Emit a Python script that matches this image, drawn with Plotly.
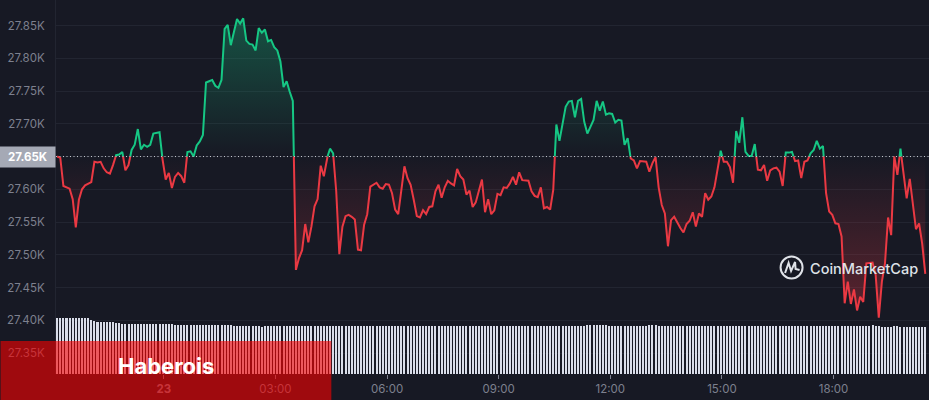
import pandas as pd
import plotly.graph_objects as go

# price every 5 minutes (USD)
price = [
    27650, 27648, 27605, 27603, 27601, 27585, 27542, 27584, 27600, 27606,
    27608, 27611, 27642, 27641, 27642, 27632, 27626, 27624, 27637, 27652,
    27653, 27657, 27629, 27637, 27660, 27668, 27692, 27661, 27668, 27665,
    27668, 27685, 27686, 27687, 27645, 27615, 27625, 27602, 27619, 27625,
    27620, 27610, 27657, 27658, 27650, 27667, 27673, 27683, 27763, 27765,
    27767, 27758, 27755, 27767, 27845, 27851, 27820, 27840, 27860, 27853,
    27861, 27827, 27822, 27821, 27812, 27846, 27839, 27844, 27826, 27828,
    27817, 27812, 27795, 27756, 27765, 27749, 27735, 27477, 27495, 27507,
    27547, 27519, 27543, 27574, 27585, 27636, 27620, 27647, 27662, 27655,
    27597, 27501, 27543, 27559, 27561, 27558, 27554, 27508, 27507, 27546,
    27562, 27604, 27607, 27610, 27603, 27601, 27608, 27607, 27594, 27569,
    27562, 27599, 27635, 27617, 27607, 27584, 27559, 27557, 27568, 27562,
    27573, 27574, 27597, 27607, 27587, 27603, 27613, 27609, 27606, 27631,
    27620, 27615, 27592, 27598, 27573, 27580, 27599, 27615, 27565, 27585,
    27562, 27568, 27593, 27591, 27603, 27602, 27609, 27619, 27607, 27626,
    27614, 27613, 27613, 27597, 27590, 27588, 27603, 27571, 27573, 27569,
    27599, 27699, 27674, 27701, 27726, 27734, 27735, 27710, 27735, 27738,
    27703, 27685, 27696, 27706, 27735, 27720, 27734, 27714, 27716, 27715,
    27702, 27706, 27705, 27668, 27678, 27647, 27644, 27632, 27643, 27643,
    27642, 27627, 27640, 27649, 27603, 27576, 27563, 27513, 27553, 27558,
    27549, 27541, 27534, 27547, 27552, 27565, 27543, 27563, 27558, 27594,
    27584, 27589, 27603, 27627, 27659, 27642, 27642, 27634, 27610, 27689,
    27671, 27710, 27657, 27651, 27651, 27669, 27630, 27629, 27637, 27613,
    27629, 27632, 27633, 27627, 27605, 27656, 27656, 27657, 27643, 27644,
    27617, 27642, 27644, 27655, 27660, 27674, 27662, 27666, 27594, 27566,
    27561, 27548, 27547, 27528, 27426, 27459, 27425, 27447, 27415, 27436,
    27428, 27487, 27487, 27488, 27469, 27404, 27459, 27487, 27557, 27530,
    27650, 27622, 27662, 27622, 27586, 27616, 27578, 27539, 27548, 27517,
    27471,
]

# volume bars, billions
volume = [
    15.0, 15.0, 15.0, 15.0, 15.0, 15.0, 15.0, 15.0, 15.0, 15.0,
    15.0, 14.5, 14.1, 14.0, 14.0, 13.9, 13.9, 13.9, 13.8, 13.7,
    13.7, 13.5, 13.5, 13.5, 13.5, 13.4, 13.4, 13.4, 13.4, 13.3,
    13.3, 13.3, 13.3, 13.3, 13.3, 13.3, 13.3, 13.3, 13.2, 13.2,
    13.2, 13.0, 13.0, 13.0, 13.0, 13.0, 13.0, 13.0, 13.0, 13.0,
    13.0, 13.0, 13.0, 13.0, 13.0, 13.0, 13.0, 12.9, 12.9, 12.9,
    12.9, 12.9, 12.9, 12.9, 12.8, 12.8, 12.5, 12.8, 12.9, 12.9,
    12.9, 12.9, 12.9, 12.9, 12.9, 12.9, 12.9, 12.9, 12.9, 12.9,
    12.9, 12.9, 12.9, 12.9, 12.9, 12.9, 12.9, 12.9, 12.9, 12.9,
    12.9, 12.9, 12.9, 12.8, 12.8, 12.8, 12.8, 12.8, 12.8, 12.8,
    12.8, 12.8, 12.8, 12.8, 12.8, 12.8, 12.8, 12.8, 12.8, 12.8,
    12.8, 12.8, 12.8, 12.8, 12.8, 12.8, 12.8, 12.8, 12.9, 12.8,
    12.8, 12.8, 12.8, 12.8, 12.8, 12.8, 12.8, 12.8, 12.8, 12.8,
    12.9, 12.9, 12.9, 12.9, 12.9, 12.9, 12.9, 12.9, 12.9, 12.9,
    12.9, 12.9, 12.9, 12.9, 12.8, 12.8, 12.8, 12.8, 12.8, 12.8,
    12.8, 12.8, 12.8, 12.8, 12.8, 12.8, 12.8, 12.8, 12.8, 12.8,
    12.8, 12.8, 12.8, 12.8, 12.8, 12.8, 12.8, 12.8, 12.8, 12.8,
    12.9, 13.0, 13.0, 13.0, 13.0, 13.0, 13.0, 13.0, 12.9, 12.9,
    12.9, 12.9, 12.9, 12.9, 12.9, 12.9, 12.9, 12.9, 12.9, 12.9,
    12.9, 13.0, 13.0, 13.0, 12.9, 12.9, 12.9, 12.8, 12.8, 12.8,
    12.8, 12.8, 12.8, 12.8, 12.8, 12.9, 12.9, 12.9, 12.9, 12.9,
    12.9, 12.9, 12.9, 12.9, 12.9, 12.9, 12.9, 12.9, 12.9, 12.9,
    12.9, 12.9, 12.9, 12.9, 12.9, 12.9, 12.9, 12.9, 12.9, 12.9,
    12.9, 12.9, 12.9, 12.9, 12.9, 12.9, 12.9, 12.9, 12.9, 12.9,
    12.9, 12.9, 12.9, 12.9, 12.9, 12.9, 12.9, 12.9, 12.9, 12.9,
    12.9, 12.8, 12.8, 12.8, 12.8, 12.8, 12.8, 12.8, 12.8, 12.8,
    12.8, 12.8, 12.8, 13.0, 12.9, 12.9, 12.7, 12.7, 12.7, 12.7,
    12.8, 12.8, 12.7, 12.7, 12.7, 12.6, 12.7, 12.7, 12.6, 12.6,
    12.6,
]

base_price = 27650
y_tickvals = [27350, 27400, 27450, 27500, 27550, 27600, 27650, 27700, 27750, 27800, 27850]
y_ticktext = ['27.35K', '27.40K', '27.45K', '27.50K', '27.55K', '27.60K', '', '27.70K', '27.75K', '27.80K', '27.85K']
x_tickvals = ['2023-04-23 00:00', '2023-04-23 03:00', '2023-04-23 06:00', '2023-04-23 09:00',
              '2023-04-23 12:00', '2023-04-23 15:00', '2023-04-23 18:00']
x_ticktext = ['<b>23</b>', '03:00', '06:00', '09:00', '12:00', '15:00', '18:00']

GREEN = '#16c784'
RED = '#ea3943'
BG = '#171924'
GREY = '#7d808e'
W, H = 929, 400
PLOT_L, PLOT_B = 55.5, 26


# pixel position in the window -> paper coordinates, for the overlay bits
def px(x):
    return (x - PLOT_L) / (W - PLOT_L)


def py(y):
    return 1 - y / (H - PLOT_B)


times = pd.date_range('2023-04-22 21:08', periods=len(price), freq='5min')

# add the points where the line meets the base price so colours switch exactly there
xs, ys = [], []
for i in range(len(price)):
    if i > 0 and (price[i - 1] - base_price) * (price[i] - base_price) < 0:
        frac = (base_price - price[i - 1]) / (price[i] - price[i - 1])
        xs.append(times[i - 1] + (times[i] - times[i - 1]) * frac)
        ys.append(base_price)
    xs.append(times[i])
    ys.append(price[i])

above = [v if v >= base_price else None for v in ys]
below = [v if v <= base_price else None for v in ys]
above_fill = [max(v, base_price) for v in ys]
below_fill = [min(v, base_price) for v in ys]
base_line = [base_price] * len(xs)

fig = go.Figure()

# green area
fig.add_trace(go.Scatter(x=xs, y=base_line, mode='lines', line={'width': 0}, hoverinfo='skip'))
fig.add_trace(go.Scatter(
    x=xs, y=above_fill, mode='lines', line={'width': 0}, fill='tonexty', hoverinfo='skip',
    fillgradient={'type': 'vertical', 'start': 27860, 'stop': base_price,
                  'colorscale': [[0, 'rgba(22,199,132,0.33)'], [1, 'rgba(22,199,132,0)']]},
))
# red area
fig.add_trace(go.Scatter(x=xs, y=base_line, mode='lines', line={'width': 0}, hoverinfo='skip'))
fig.add_trace(go.Scatter(
    x=xs, y=below_fill, mode='lines', line={'width': 0}, fill='tonexty', hoverinfo='skip',
    fillgradient={'type': 'vertical', 'start': 27404, 'stop': base_price,
                  'colorscale': [[0, 'rgba(234,57,67,0.33)'], [1, 'rgba(234,57,67,0)']]},
))

fig.add_trace(go.Scatter(x=xs, y=above, mode='lines', line={'color': GREEN, 'width': 2}, connectgaps=False))
fig.add_trace(go.Scatter(x=xs, y=below, mode='lines', line={'color': RED, 'width': 2}, connectgaps=False))

fig.add_trace(go.Bar(x=times, y=volume, yaxis='y2', width=195000,
                     marker={'color': '#d9dde9', 'line': {'width': 0}}))

shapes = [
    # dotted price line
    {'type': 'line', 'xref': 'paper', 'yref': 'y', 'x0': 0, 'x1': 1, 'y0': base_price, 'y1': base_price,
     'line': {'color': '#c9ccd3', 'width': 1, 'dash': '1px,2.5px'}, 'layer': 'above'},
    # red banner
    {'type': 'rect', 'xref': 'paper', 'yref': 'paper', 'x0': px(0), 'x1': px(331), 'y0': py(341), 'y1': py(400),
     'fillcolor': 'rgba(250,0,0,0.6)', 'line': {'width': 0}, 'layer': 'above'},
    # logo
    {'type': 'circle', 'xref': 'paper', 'yref': 'paper', 'x0': px(780.5), 'x1': px(802.5), 'y0': py(256.5), 'y1': py(278.5),
     'line': {'color': '#dfe2e8', 'width': 2}, 'layer': 'above'},
    {'type': 'path', 'xref': 'paper', 'yref': 'paper',
     'path': f'M {px(785)} {py(273)} L {px(788.5)} {py(263)} L {px(791)} {py(271)} '
             f'L {px(795)} {py(262)} L {px(795.5)} {py(269)} L {px(799.5)} {py(270)}',
     'line': {'color': '#dfe2e8', 'width': 2}, 'layer': 'above'},
]

annotations = [
    {'xref': 'paper', 'yref': 'y', 'x': px(56), 'y': base_price, 'xanchor': 'right', 'yanchor': 'middle',
     'text': '<b>27.65K</b>', 'showarrow': False, 'bgcolor': '#a5a9b5', 'width': 53, 'height': 18,
     'align': 'center', 'font': {'family': 'Inter', 'size': 11.5, 'color': '#ffffff'}},
    {'xref': 'paper', 'yref': 'paper', 'x': px(166), 'y': py(366), 'xanchor': 'center', 'yanchor': 'middle',
     'text': '<b>Haberois</b>', 'showarrow': False, 'font': {'family': 'Inter', 'size': 22, 'color': '#ffffff'}},
    {'xref': 'paper', 'yref': 'paper', 'x': px(808), 'y': py(268), 'xanchor': 'left', 'yanchor': 'middle',
     'text': 'CoinMarketCap', 'showarrow': False,
     'font': {'family': 'Inter', 'size': 14.5, 'color': '#dfe2e8', 'weight': 500}},
]

fig.update_layout(
    width=W, height=H,
    margin={'l': PLOT_L, 'r': 0, 't': 0, 'b': PLOT_B, 'pad': 0},
    paper_bgcolor=BG, plot_bgcolor=BG,
    showlegend=False,
    bargap=0,
    font={'family': 'Inter', 'size': 11.5, 'color': GREY},
    shapes=shapes,
    annotations=annotations,
    xaxis={
        'type': 'date',
        'range': ['2023-04-22 21:06:04', '2023-04-23 20:34:00'],
        'tickmode': 'array', 'tickvals': x_tickvals, 'ticktext': x_ticktext,
        'ticks': 'outside', 'ticklen': 4, 'tickwidth': 1, 'tickcolor': GREY,
        'showgrid': False, 'zeroline': False, 'showline': False,
    },
    yaxis={
        'range': [27318, 27889],
        'tickmode': 'array', 'tickvals': y_tickvals, 'ticktext': y_ticktext,
        'gridcolor': '#222531', 'gridwidth': 1,
        'ticks': 'outside', 'ticklen': 8, 'tickcolor': 'rgba(0,0,0,0)',
        'zeroline': False, 'showline': True, 'linecolor': '#222531', 'linewidth': 1,
    },
    yaxis2={
        'overlaying': 'y', 'range': [0, 100.2], 'visible': False,
    },
)

# the page has a default 8px body margin, drop it so the chart fills the window
fig.write_html("out.html", config={'displayModeBar': False},
               post_script="document.body.style.margin = '0';")
